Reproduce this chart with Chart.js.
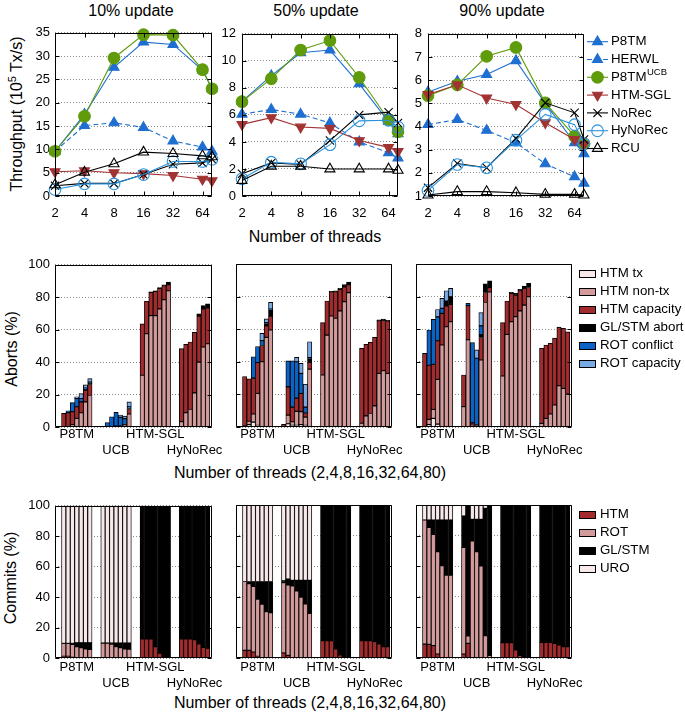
<!DOCTYPE html>
<html><head><meta charset="utf-8"><title>P8TM throughput, aborts and commits</title>
<script src="https://cdn.jsdelivr.net/npm/chart.js@4.4.1/dist/chart.umd.min.js"></script>
<style>
html,body{margin:0;padding:0;background:#fff;}
body{position:relative;width:685px;height:712px;overflow:hidden;font-family:"Liberation Sans",Arial,Helvetica,sans-serif;color:#000;}
canvas{position:absolute;}
.lbl{position:absolute;white-space:nowrap;font-size:16px;line-height:16px;transform:translate(-50%,-50%);}
.rot{transform:translate(-50%,-50%) rotate(-90deg);}
.sup{font-size:11px;position:relative;top:-6px;}
</style></head><body>
<div class="lbl" style="left:131px;top:11px">10% update</div>
<div class="lbl" style="left:316px;top:11px">50% update</div>
<div class="lbl" style="left:502px;top:11px">90% update</div>
<div class="lbl" style="left:315px;top:237px">Number of threads</div>
<div class="lbl rot" style="left:17px;top:114px">Throughput (10<span class="sup">5</span> Tx/s)</div>
<div class="lbl rot" style="left:12px;top:349px">Aborts (%)</div>
<div class="lbl" style="left:310px;top:473px">Number of threads (2,4,8,16,32,64,80)</div>
<div class="lbl rot" style="left:11px;top:578px">Commits (%)</div>
<div class="lbl" style="left:310px;top:703px">Number of threads (2,4,8,16,32,64,80)</div>
<script>
// ---------------- DATA ----------------
const threads = [2, 4, 8, 16, 32, 64, 80];
const threadTicks = [2, 4, 8, 16, 32, 64];
const lineSeries = ['P8TM', 'HERWL', 'P8TM^UCB', 'HTM-SGL', 'NoRec', 'HyNoRec', 'RCU'];

// Throughput (10^5 Tx/s), 10% update
const u10_P8TM    = [9.6, 17.5, 27.6, 33.0, 32.5, 27.0, 23.0];
const u10_HERWL   = [9.6, 15.1, 15.7, 14.7, 11.8, 10.5, 9.6];
const u10_P8TMUCB = [9.6, 17.1, 29.6, 34.6, 34.5, 27.1, 23.0];
const u10_HTMSGL  = [5.2, 5.4, 5.0, 4.8, 4.4, 3.6, 3.3];
const u10_NoRec   = [2.2, 2.7, 2.7, 4.6, 6.8, 7.1, 7.9];
const u10_HyNoRec = [1.4, 2.6, 2.6, 4.6, 7.4, 7.4, 7.9];
const u10_RCU     = [2.4, 5.1, 6.9, 9.4, 9.1, 8.6, 8.4];
// 50% update
const u50_P8TM    = [7.0, 8.9, 10.6, 10.8, 8.3, 5.5, 4.6];
const u50_HERWL   = [6.05, 6.4, 6.05, 5.4, 4.0, 3.2, 2.8];
const u50_P8TMUCB = [6.98, 8.68, 10.8, 11.5, 8.77, 5.64, 4.75];
const u50_HTMSGL  = [5.3, 5.8, 5.1, 5.0, 4.1, 3.6, 3.3];
const u50_NoRec   = [1.64, 2.45, 2.33, 4.1, 6.0, 6.2, 5.4];
const u50_HyNoRec = [1.27, 2.5, 2.38, 3.8, 5.56, 5.6, 5.1];
const u50_RCU     = [1.15, 2.2, 2.2, 2.0, 2.0, 2.0, 1.9];
// 90% update
const u90_P8TM    = [5.49, 5.95, 6.24, 6.84, 5.0, 3.3, 2.82];
const u90_HERWL   = [4.08, 4.3, 3.83, 3.3, 2.39, 1.83, 1.55];
const u90_P8TMUCB = [5.33, 5.8, 7.03, 7.41, 5.02, 3.58, 3.25];
const u90_HTMSGL  = [5.38, 5.8, 5.23, 4.95, 4.16, 3.44, 3.22];
const u90_NoRec   = [1.36, 2.4, 2.22, 3.48, 5.02, 4.59, 3.44];
const u90_HyNoRec = [1.24, 2.36, 2.22, 3.41, 4.52, 4.08, 3.25];
const u90_RCU     = [1.04, 1.19, 1.19, 1.14, 1.07, 1.07, 1.04];

// Bar groups (each with 7 thread counts 2,4,8,16,32,64,80)
const groups = ['P8TM', 'UCB', 'HTM-SGL', 'HyNoRec'];
const abortParts = ['HTM tx', 'HTM non-tx', 'HTM capacity', 'GL/STM abort', 'ROT conflict', 'ROT capacity'];
const commitParts = ['HTM', 'ROT', 'GL/STM', 'URO'];

// Aborts (%), 10% update  (order: P8TM x7, UCB x7, HTM-SGL x7, HyNoRec x7)
const ab10_tx    = [0,0,0,0,0,0,0, 0,0,0,0,0,0,0, 0,0,0,0,0,0,0, 0,0,0,0,0,0,0];
const ab10_nontx = [0.3,0.3,1.5,5.3,8.8,15.5,19.4, 0,0.2,0.3,0.5,0.5,1.2,8.0, 31.9,57.5,68.7,68.7,72.8,78.5,84.0, 3.3,8.8,10.8,21.0,40.0,49.3,51.3];
const ab10_cap   = [8.1,8.5,7.9,7.2,6.7,7.2,6.8, 0.3,0,0,0,0,0.3,2.8, 31.7,20.0,14.3,14.9,12.7,8.6,3.7, 45.0,42.1,41.6,37.3,28.3,23.5,22.1];
const ab10_gl    = [0,0,0,0,0,0.6,1.0, 0,0,0,0,0,0,0.6, 0,0,0.4,0.4,0.5,0.6,1.7, 0,0,0,0,1.4,2.0,2.5];
const ab10_rconf = [0,1.2,5.6,5.1,2.1,0.7,0.5, 0.3,2.5,6.0,8.5,5.4,3.7,1.1, 0,0,0,0,0,0,0, 0,0,0,0,0,0,0];
const ab10_rcap  = [0,0,0,1.0,3.0,2.0,2.1, 0,0,0,0,1.5,1.5,3.0, 0,0,0,0,0,0,0, 0,0,0,0,0,0,0];
// Aborts (%), 50% update
const ab50_tx    = [0,1.5,3,1,0,0,0, 0,2,1,1,1.5,1,0, 0,0,0,0,0,0,0, 0,0,0,0,0,0,0];
const ab50_nontx = [0.5,2,5,19.6,40,55,59.5, 0.3,5.3,2.2,8.6,7.9,5.1,35.5, 31.9,56.4,68.1,66.7,71.2,76.9,82.4, 2.3,6.8,8.3,13,32.9,34.6,32.9];
const ab50_cap   = [30.5,26,22,19,10,7,8.5, 1.3,17.3,9,8.1,11.2,2.5,4.1, 32.1,20.9,14.9,16.3,13.2,9.1,4.9, 45.9,43.9,43.6,42,32.3,31,32.1];
const ab50_gl    = [0,0,0,0,0,1.5,3.8, 0,0,0,0,0,0,2.2, 0,0,0.3,0.6,0.6,1.3,1.6, 0,0,0,0,0.6,0.6,0.4];
const ab50_rconf = [0,0,13.1,9.8,3,0.5,0.5, 0,16,28.4,22.3,12.3,3.6,0.8, 0,0,0,0,0,0,0, 0,0,0,0,0,0,0];
const ab50_rcap  = [0,0,0,0,4.4,2.3,4.2, 0,0,0,2.7,6.1,14,9.7, 0,0,0,0,0,0,0, 0,0,0,0,0,0,0];
// Aborts (%), 90% update
const ab90_tx    = [0,1.5,5.3,1.8,0,0,0, 0,0,0.5,0,0,0,0, 0,0,0,0,0,0,0, 0,0,0,0,0,0,0];
const ab90_nontx = [0.3,3.2,5.5,27.4,50.3,61.5,64.6, 12.5,53.5,0.5,0.6,41.1,76.4,82.8, 31.3,56.8,64.6,67.7,71.2,74.8,79.9, 2.2,5.3,8,13.5,25.3,23.7,20.2];
const ab90_cap   = [44.9,33.2,27.7,23.7,19.4,12.7,10.6, 19.4,21,1.5,0.6,13.8,6.1,2.7, 32.7,20.5,17.4,13.2,12.4,10.2,5.7, 46.1,45,43.4,41,36,36.8,38.2];
const ab90_gl    = [0,0,0,0,0,3.1,4.7, 0,0,0,0,1.6,5.3,4.1, 0,0,0.6,1.1,0.8,1.4,2.6, 0,0,0,0,0,0,0];
const ab90_rconf = [0,21.6,27.5,14.7,3.1,0,0, 0,1.4,49.3,41,5.5,0,0, 0,0,0,0,0,0,0, 0,0,0,0,0,0,0];
const ab90_rcap  = [0,0,0,4.5,6.1,6.3,5.1, 0,0,0,5.1,8.2,0,0, 0,0,0,0,0,0,0, 0,0,0,0,0,0,0];

// Commits (%), 10% update
const cm10_htm = [1.1,1.1,0.5,0,0,0,0, 0,0,0,0,0,0,0, 12.6,12.6,12.6,7.4,3.1,0,0, 12.6,12.6,12.6,12.0,9.2,7.0,6.3];
const cm10_rot = [8.4,8.4,8.4,7.4,6.8,5.9,5.7, 9.7,9.7,9.0,7.5,6.8,6.0,5.8, 0,0,0,0,0,0,0, 0,0,0,0,0,0,0];
const cm10_gl  = [0.1,0.1,0.7,2.6,3.2,4.1,4.3, 0.1,0.1,0.8,2.3,3.0,3.8,4.0, 87.4,87.4,87.4,92.6,96.9,100,100, 87.4,87.4,87.4,88.0,90.8,93.0,93.7];
const cm10_uro = [90.4,90.4,90.4,90,90,90,90, 90.2,90.2,90.2,90.2,90.2,90.2,90.2, 0,0,0,0,0,0,0, 0,0,0,0,0,0,0];
// Commits (%), 50% update
const cm50_htm = [5,5,3.9,1.1,0,0,0, 3.3,1.7,0,0,0,0,0, 11.3,11.3,11.3,5.9,2,0,0, 11.3,11.3,11.3,10.7,9.2,7.4,7.4];
const cm50_rot = [45,43.5,42.8,37.3,35.1,30.3,29.6, 46,46.1,47.1,43.8,39.7,35.3,29.2, 0,0,0,0,0,0,0, 0,0,0,0,0,0,0];
const cm50_gl  = [0,1.5,3.3,11.6,14.9,19.7,20.4, 1.1,3.8,3.6,6.9,11,15.4,21.5, 88.7,88.7,88.7,94.1,98,100,100, 88.7,88.7,88.7,89.3,90.8,92.6,92.6];
const cm50_uro = [50,50,50,50,50,50,50, 49.6,48.4,49.3,49.3,49.3,49.3,49.3, 0,0,0,0,0,0,0, 0,0,0,0,0,0,0];
// Commits (%), 90% update
const cm90_htm = [9.1,8.9,8.1,2.6,0,0,0, 2.6,9.6,0,0,0,0,0, 10,10,10,5.2,1.5,0,0, 10.2,10.2,10.2,9.6,8.5,7.4,7.4];
const cm90_rot = [81.1,76.5,72.7,66.9,60.3,54.2,54.2, 69.7,4.8,76.5,69.5,60.1,14.6,1.5, 0,0,0,0,0,0,0, 0,0,0,0,0,0,0];
const cm90_gl  = [0,4.8,9.4,20.7,29.9,36,36, 20.5,85.6,14.1,21.1,30.5,83.2,98.5, 90,90,90,94.8,98.5,100,100, 89.8,89.8,89.8,90.4,91.5,92.6,92.6];
const cm90_uro = [9.8,9.8,9.8,9.8,9.8,9.8,9.8, 7.2,0,9.4,9.4,9.4,2.2,0, 0,0,0,0,0,0,0, 0,0,0,0,0,0,0];

// ---------------- STYLE ----------------
const FONT = '"Liberation Sans", Arial, Helvetica, sans-serif';
Chart.defaults.font.family = FONT;
Chart.defaults.font.size = 13;
Chart.defaults.color = '#000';
Chart.defaults.animation = false;

const lineStyles = [
  {color:'#1f6fd1', dash:[], pointStyle:'triangle', rotation:0, fill:true, radius:5.8},
  {color:'#1f6fd1', dash:[5,3], pointStyle:'triangle', rotation:0, fill:true, radius:5.8},
  {color:'#5f9b0b', dash:[], pointStyle:'circle', rotation:0, fill:true, radius:5.8},
  {color:'#a23333', dash:[], pointStyle:'triangle', rotation:180, fill:true, radius:5.8},
  {color:'#000000', dash:[], pointStyle:'crossRot', rotation:0, fill:false, radius:5.8},
  {color:'#2a93dc', dash:[], pointStyle:'circle', rotation:0, fill:false, radius:5.8},
  {color:'#000000', dash:[], pointStyle:'triangle', rotation:0, fill:false, radius:5.8}
];
const abortColors = ['#f7e9e9', '#d29a9a', '#a22b2d', '#000000', '#0a64c8', '#7aaae4'];
const commitColors = ['#a22b2d', '#d29a9a', '#000000', '#f7e9e9'];

// bar layout: 4 groups of 7 bars, 9 slots per group
const barXs = groups.flatMap((g, gi) => threads.map((t, j) => gi * 9 + 2 + j));
const groupCenters = groups.map((g, gi) => gi * 9 + 5);
const groupLabels = [['P8TM'], ['', 'UCB'], ['HTM-SGL'], ['', 'HyNoRec']];

// ---------------- HELPERS ----------------
function makeCanvas(rect, pad) {
  const c = document.createElement('canvas');
  const w = pad.l + (rect.r - rect.l) + pad.r, h = pad.t + (rect.b - rect.t) + pad.b;
  c.width = w; c.height = h;
  c.style.left = (rect.l - pad.l) + 'px'; c.style.top = (rect.t - pad.t) + 'px';
  c.style.width = w + 'px'; c.style.height = h + 'px';
  document.body.appendChild(c);
  return c;
}

function drawMarker(ctx, s, x, y) {
  const r = s.radius;
  ctx.save();
  ctx.strokeStyle = s.color; ctx.fillStyle = s.fill ? s.color : 'rgba(0,0,0,0)'; ctx.lineWidth = 1.1;
  ctx.beginPath();
  if (s.pointStyle === 'circle') {
    ctx.arc(x, y, r, 0, 2 * Math.PI);
  } else if (s.pointStyle === 'triangle') {
    const a0 = (s.rotation || 0) * Math.PI / 180;
    for (let k = 0; k < 3; k++) {
      const a = a0 + k * 2 * Math.PI / 3;
      const px = x + Math.sin(a) * r, py = y - Math.cos(a) * r;
      if (k) ctx.lineTo(px, py); else ctx.moveTo(px, py);
    }
    ctx.closePath();
  } else if (s.pointStyle === 'crossRot') {
    const d = r * Math.SQRT1_2;
    ctx.moveTo(x - d, y - d); ctx.lineTo(x + d, y + d);
    ctx.moveTo(x - d, y + d); ctx.lineTo(x + d, y - d);
  }
  if (s.fill) ctx.fill();
  ctx.stroke();
  ctx.restore();
}

function drawLabel(ctx, text, x, y) {
  const parts = text.split('^');
  ctx.font = '13.3px ' + FONT;
  ctx.fillText(parts[0], x, y);
  if (parts[1]) {
    const w = ctx.measureText(parts[0]).width;
    ctx.font = '9.5px ' + FONT;
    ctx.fillText(parts[1], x + w + 0.5, y - 5);
    ctx.font = '13.3px ' + FONT;
  }
}

const framePlugin = {
  id: 'frame',
  afterDatasetsDraw(chart, args, o) {
    const {ctx, chartArea: a, scales} = chart;
    ctx.save();
    ctx.setLineDash([]);
    ctx.strokeStyle = '#000'; ctx.lineWidth = 1;
    const L = Math.round(a.left) + 0.5, T = Math.round(a.top) + 0.5;
    const R = Math.round(a.right) - 0.5, B = Math.round(a.bottom) - 0.5;
    ctx.beginPath();
    ctx.rect(L, T, R - L, B - T);
    const tl = 4;
    scales.y.ticks.forEach(t => {
      const y = Math.round(scales.y.getPixelForValue(t.value)) + 0.5;
      ctx.moveTo(L, y); ctx.lineTo(L + tl, y);
      ctx.moveTo(R, y); ctx.lineTo(R - tl, y);
    });
    if (o && o.xTicks) {
      scales.x.ticks.forEach(t => {
        const x = Math.round(scales.x.getPixelForValue(t.value)) + 0.5;
        ctx.moveTo(x, B); ctx.lineTo(x, B - tl);
        ctx.moveTo(x, T); ctx.lineTo(x, T + tl);
      });
    }
    ctx.stroke();
    ctx.restore();
  }
};

const legendPlugin = {
  id: 'customLegend',
  afterDraw(chart, args, o) {
    if (!o || !o.items) return;
    const ctx = chart.ctx;
    ctx.save();
    ctx.font = '13.3px ' + FONT;
    ctx.textBaseline = 'middle'; ctx.textAlign = 'left';
    o.items.forEach(it => {
      const y = it.y - o.offT;
      if (o.kind === 'line') {
        const x1 = 587 - o.offL, x2 = 608 - o.offL, xm = 597.5 - o.offL;
        ctx.strokeStyle = it.color; ctx.lineWidth = 1.1; ctx.setLineDash(it.dash || []);
        ctx.beginPath(); ctx.moveTo(x1, y); ctx.lineTo(x2, y); ctx.stroke();
        ctx.setLineDash([]);
        drawMarker(ctx, it, xm, y);
        ctx.fillStyle = '#000';
        drawLabel(ctx, it.label, 611 - o.offL, y);
      } else {
        const x = 579 - o.offL, yy = Math.round(y - 3.5) + 0.5;
        ctx.fillStyle = it.color; ctx.fillRect(x + 0.5, yy, 16, 7);
        ctx.strokeStyle = '#000'; ctx.lineWidth = 1; ctx.strokeRect(x + 0.5, yy, 16, 7);
        ctx.fillStyle = '#000'; ctx.fillText(it.label, 600 - o.offL, y);
      }
    });
    ctx.restore();
  }
};

function lineChart(rect, pad, yMin, yMax, yStep, yPad, series, legendItems) {
  const c = makeCanvas(rect, pad);
  new Chart(c, {
    type: 'line',
    data: {
      datasets: series.map((vals, i) => {
        const s = lineStyles[i];
        return {
          label: lineSeries[i],
          data: threads.map((t, k) => ({x: t, y: vals[k]})),
          borderColor: s.color, borderWidth: 1.1, borderDash: s.dash,
          pointStyle: s.pointStyle, pointRotation: s.rotation, pointRadius: s.radius,
          pointBackgroundColor: s.fill ? s.color : 'rgba(0,0,0,0)', pointBorderColor: s.color,
          pointBorderWidth: 1.1, fill: false, tension: 0, clip: false, order: 10 - i
        };
      })
    },
    options: {
      responsive: false, devicePixelRatio: 1, animation: false,
      layout: {padding: {top: pad.t, right: pad.r, left: 0, bottom: 0}},
      plugins: {
        legend: {display: false}, tooltip: {enabled: false},
        frame: {xTicks: true},
        customLegend: legendItems ? {items: legendItems, kind: 'line', offL: rect.l - pad.l, offT: rect.t - pad.t} : {}
      },
      scales: {
        x: {
          type: 'logarithmic', min: 2, max: 80,
          afterBuildTicks: s => { s.ticks = threadTicks.map(v => ({value: v})); },
          afterFit: s => { s.height = pad.b; },
          ticks: {autoSkip: false, maxRotation: 0, padding: 10, font: {size: 13, lineHeight: '15.5px'}, callback: v => String(v)},
          grid: {display: false, drawTicks: false}, border: {display: false}
        },
        y: {
          min: yMin, max: yMax,
          afterFit: s => { s.width = pad.l; },
          ticks: {stepSize: yStep, padding: yPad, font: {size: 13}},
          grid: {color: '#8a8a8a', lineWidth: 1, drawTicks: false},
          border: {display: false, dash: [1, 2]}
        }
      }
    },
    plugins: [framePlugin, legendPlugin]
  });
}

function barChart(rect, pad, comps, names, colors, showY, tickPad, legendItems) {
  const c = makeCanvas(rect, pad);
  new Chart(c, {
    type: 'bar',
    data: {
      datasets: comps.map((vals, i) => ({
        label: names[i],
        data: vals.map((v, k) => ({x: barXs[k], y: v})),
        backgroundColor: colors[i], borderColor: '#000', borderWidth: 0.9,
        borderSkipped: false, barPercentage: 1, categoryPercentage: 1, stack: 's'
      }))
    },
    options: {
      responsive: false, devicePixelRatio: 1, animation: false,
      layout: {padding: {top: pad.t, right: pad.r, left: 0, bottom: 0}},
      plugins: {
        legend: {display: false}, tooltip: {enabled: false},
        frame: {xTicks: false},
        customLegend: legendItems ? {items: legendItems, kind: 'box', offL: rect.l - pad.l, offT: rect.t - pad.t} : {}
      },
      scales: {
        x: {
          type: 'linear', min: 0, max: 36, stacked: true, offset: false,
          afterBuildTicks: s => { s.ticks = groupCenters.map(v => ({value: v})); },
          afterFit: s => { s.height = pad.b; },
          ticks: {autoSkip: false, maxRotation: 0, padding: tickPad, font: {size: 13, lineHeight: '15.5px'},
                  callback: (v, i) => groupLabels[i]},
          grid: {display: false, offset: false, drawTicks: false}, border: {display: false}
        },
        y: {
          stacked: true, min: 0, max: 100,
          afterFit: s => { s.width = pad.l; },
          ticks: {stepSize: 20, display: showY, padding: 5, font: {size: 13}},
          grid: {color: '#8a8a8a', lineWidth: 1, drawTicks: false},
          border: {display: false, dash: [1, 2]}
        }
      }
    },
    plugins: [framePlugin, legendPlugin]
  });
}

// ---------------- BUILD ----------------
const topLegend = lineSeries.map((name, i) => Object.assign({label: name, y: 41.7 + 17.8 * i}, lineStyles[i]));
const abortLegend = abortParts.map((name, i) => ({label: name, color: abortColors[i], y: 273 + 18 * i}));
const commitLegend = commitParts.map((name, i) => ({label: name, color: commitColors[i], y: 514 + 18 * i}));

const padTop = {l: 50, r: 30, t: 12, b: 32};
lineChart({l: 55, t: 32, r: 212, b: 196}, padTop, 0, 35, 5, 5,
  [u10_P8TM, u10_HERWL, u10_P8TMUCB, u10_HTMSGL, u10_NoRec, u10_HyNoRec, u10_RCU], null);
lineChart({l: 242, t: 32, r: 398, b: 196}, padTop, 0, 12, 2, 6,
  [u50_P8TM, u50_HERWL, u50_P8TMUCB, u50_HTMSGL, u50_NoRec, u50_HyNoRec, u50_RCU], null);
lineChart({l: 428, t: 32, r: 584, b: 196}, {l: 50, r: 101, t: 12, b: 32}, 1, 8, 1, 6,
  [u90_P8TM, u90_HERWL, u90_P8TMUCB, u90_HTMSGL, u90_NoRec, u90_HyNoRec, u90_RCU], topLegend);

const padMid = {l: 50, r: 30, t: 12, b: 40};
barChart({l: 55, t: 264, r: 212, b: 427}, padMid,
  [ab10_tx, ab10_nontx, ab10_cap, ab10_gl, ab10_rconf, ab10_rcap], abortParts, abortColors, true, 0, null);
barChart({l: 236, t: 264, r: 392, b: 427}, padMid,
  [ab50_tx, ab50_nontx, ab50_cap, ab50_gl, ab50_rconf, ab50_rcap], abortParts, abortColors, false, 0, null);
barChart({l: 416, t: 264, r: 572, b: 427}, {l: 50, r: 113, t: 12, b: 40},
  [ab90_tx, ab90_nontx, ab90_cap, ab90_gl, ab90_rconf, ab90_rcap], abortParts, abortColors, false, 0, abortLegend);

const padBot = {l: 50, r: 30, t: 12, b: 40};
barChart({l: 55, t: 505, r: 212, b: 658}, padBot,
  [cm10_htm, cm10_rot, cm10_gl, cm10_uro], commitParts, commitColors, true, 2, null);
barChart({l: 236, t: 505, r: 392, b: 658}, padBot,
  [cm50_htm, cm50_rot, cm50_gl, cm50_uro], commitParts, commitColors, false, 2, null);
barChart({l: 416, t: 505, r: 572, b: 658}, {l: 50, r: 113, t: 12, b: 40},
  [cm90_htm, cm90_rot, cm90_gl, cm90_uro], commitParts, commitColors, false, 2, commitLegend);
</script>
</body></html>
